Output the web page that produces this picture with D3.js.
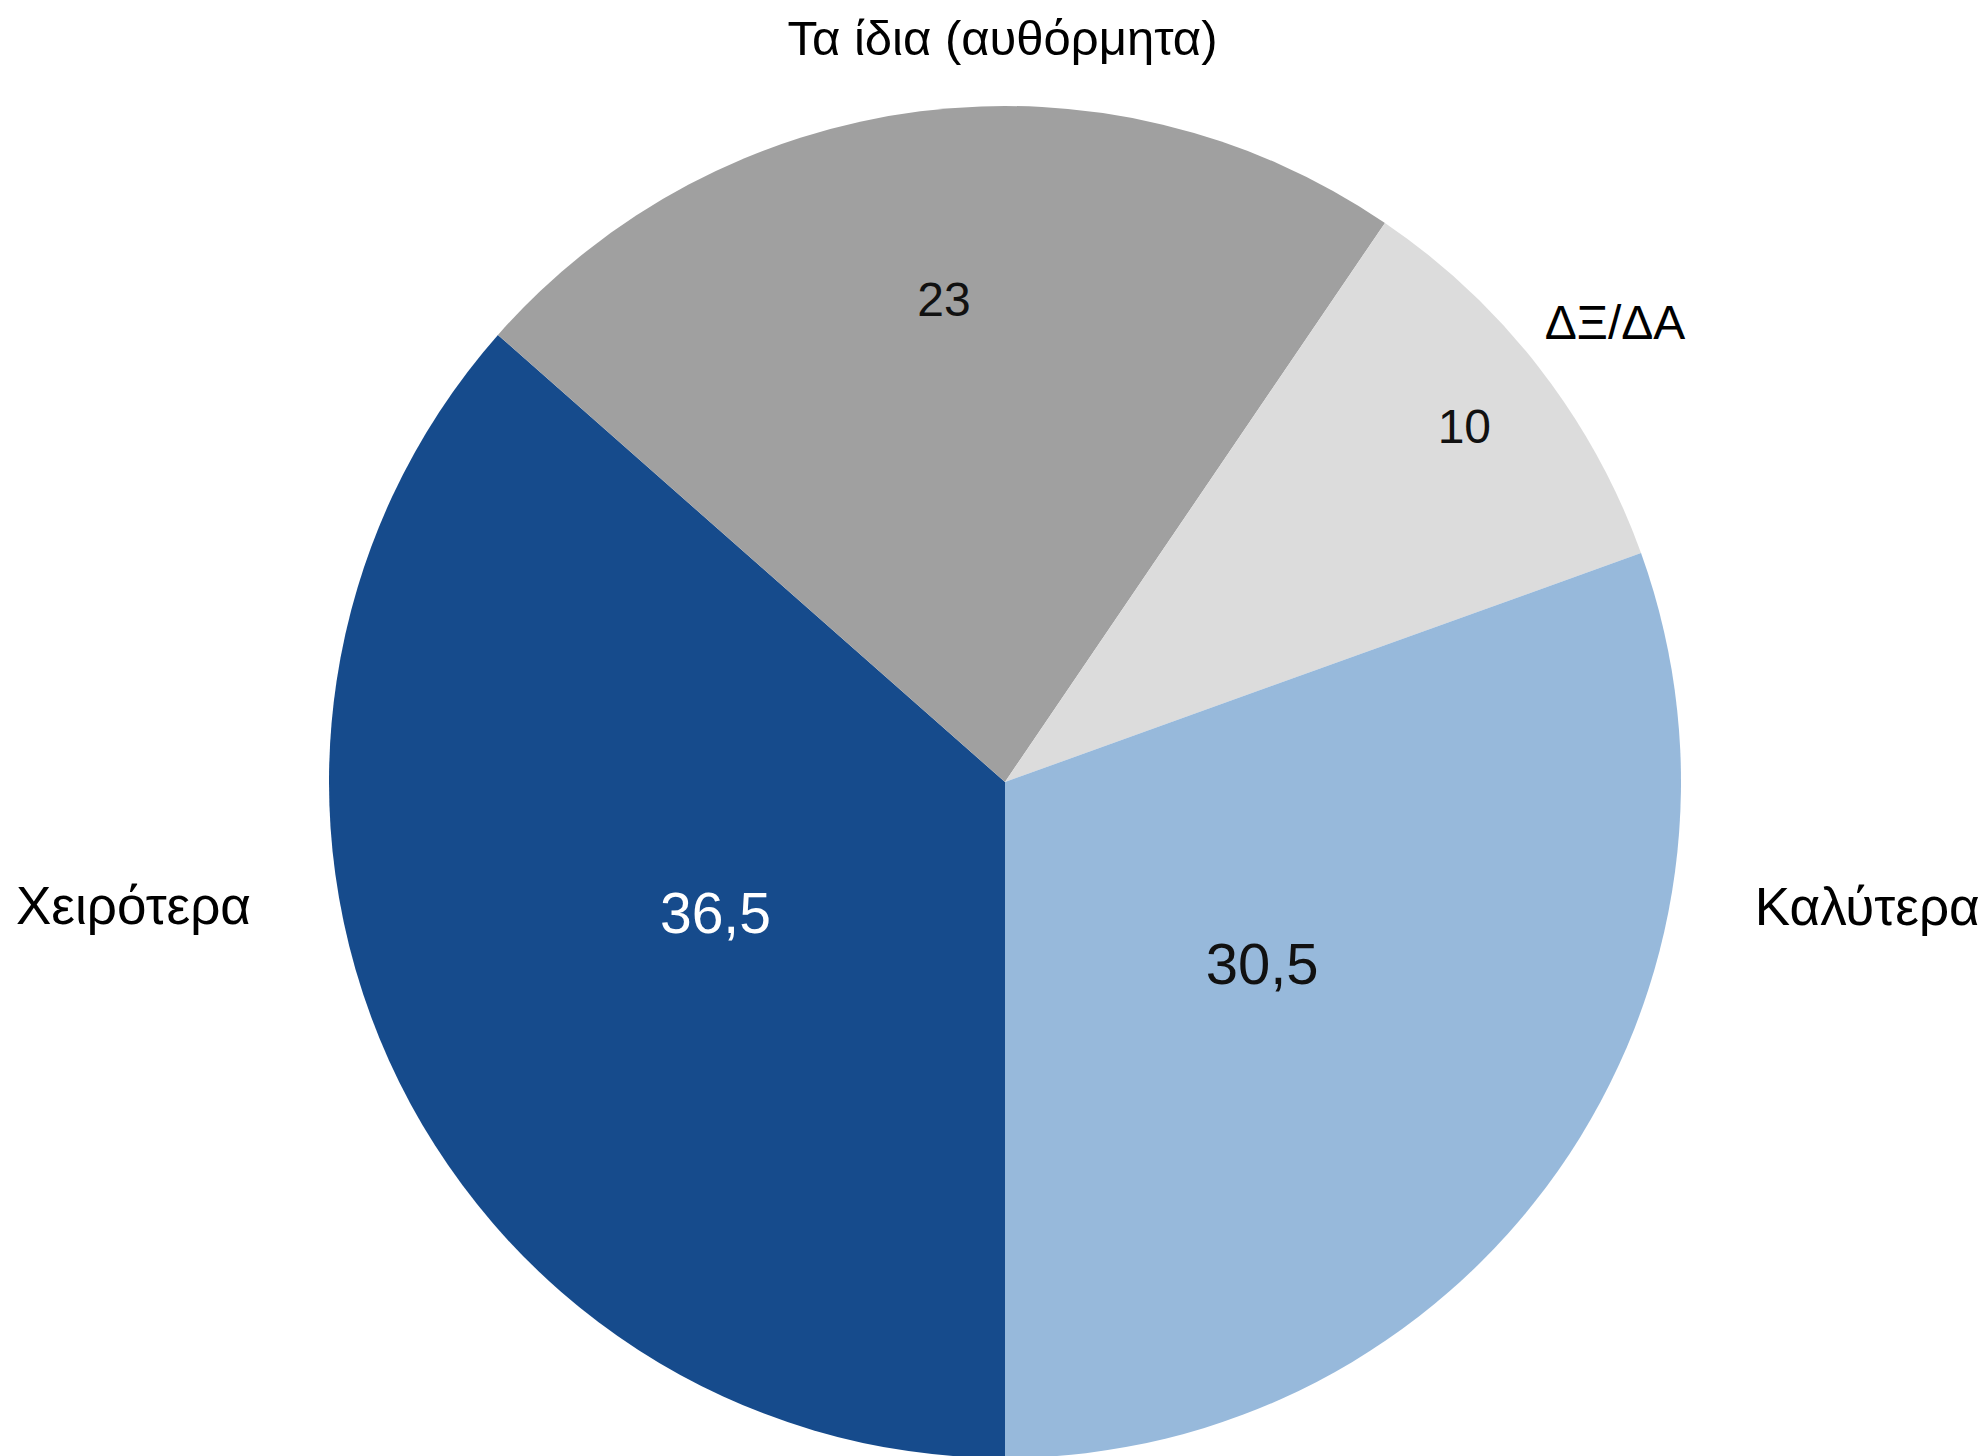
<html>
<head>
<meta charset="utf-8">
<style>
    body { margin: 0; background: #fff; }
    text { font-family: "Liberation Sans", Arial, sans-serif; }
</style>
</head>
<body>
<svg id="chart" width="1984" height="1456"></svg>
<script src="https://cdn.jsdelivr.net/npm/d3@7"></script>
<script>
    // data (order = clockwise from 6 o'clock)
    let categories = ["Χειρότερα", "Τα ίδια (αυθόρμητα)", "ΔΞ/ΔΑ", "Καλύτερα"]
    let values = [36.5, 23, 10, 30.5]
    let valueLabels = ["36,5", "23", "10", "30,5"]
    let colors = ["#164b8c", "#a0a0a0", "#dcdcdc", "#97b9db"]

    // layout
    let cx = 1005, cy = 782, radius = 676
    let valueRadius = [0.47, 0.72, 0.86, 0.465]
    let valueSize = [57, 48, 48, 58]
    let valueFill = ["#fff", "#111", "#111", "#111"]
    // category label: angle (deg, clockwise from top) and distance of baseline point
    let catAngle = [260.75, -0.2, 54, 99.4]
    let catDist = [883, 727, 754, 874]
    let catSize = [53, 49, 48, 53]

    let svg = d3.select("#chart")
    let body = svg.append("g").attr("transform", "translate(" + cx + "," + cy + ")")

    let pie = d3.pie()
        .sort(null)
        .value(d => d)
        .startAngle(Math.PI)
        .endAngle(3 * Math.PI)

    let arcs = pie(values)

    let arc = d3.arc().innerRadius(0).outerRadius(radius)

    body.selectAll("path.slice")
        .data(arcs)
        .enter().append("path")
        .attr("class", "slice")
        .attr("d", arc)
        .attr("fill", (d, i) => colors[i])

    // values inside slices
    body.selectAll("text.value")
        .data(arcs)
        .enter().append("text")
        .attr("class", "value")
        .attr("transform", (d, i) => {
            let r = valueRadius[i] * radius
            let a = (d.startAngle + d.endAngle) / 2
            return "translate(" + (r * Math.sin(a)) + "," + (-r * Math.cos(a)) + ")"
        })
        .attr("dy", "0.36em")
        .attr("text-anchor", "middle")
        .attr("font-size", (d, i) => valueSize[i] + "px")
        .attr("fill", (d, i) => valueFill[i])
        .text((d, i) => valueLabels[i])

    // category labels
    body.selectAll("text.cat")
        .data(categories)
        .enter().append("text")
        .attr("class", "cat")
        .attr("x", (d, i) => catDist[i] * Math.sin(catAngle[i] * Math.PI / 180))
        .attr("y", (d, i) => -catDist[i] * Math.cos(catAngle[i] * Math.PI / 180))
        .attr("text-anchor", "middle")
        .attr("font-size", (d, i) => catSize[i] + "px")
        .attr("fill", "#000")
        .text(d => d)
</script>
</body>
</html>
